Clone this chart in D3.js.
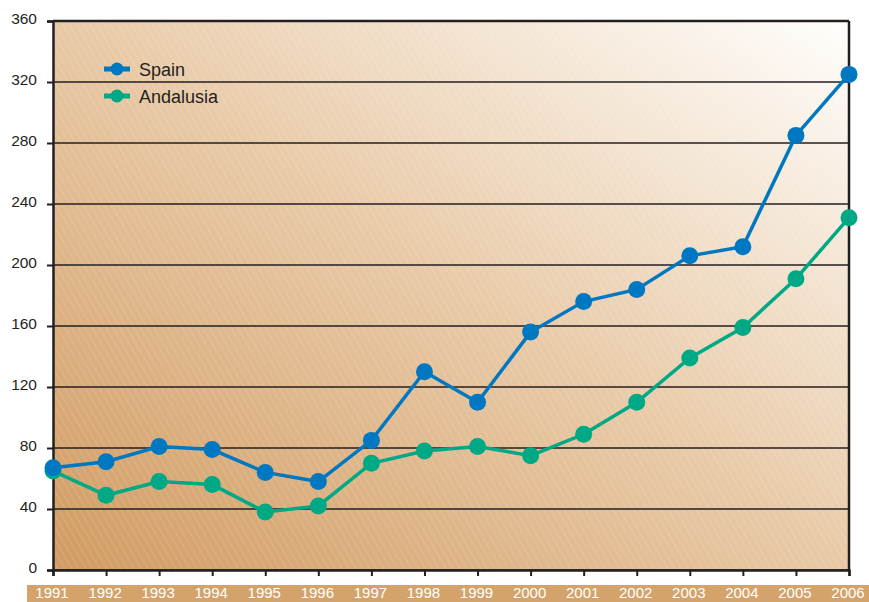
<!DOCTYPE html>
<html>
<head>
<meta charset="utf-8">
<script src="https://cdn.jsdelivr.net/npm/d3@7"></script>
<style>
  body { margin: 0; background: #fff; }
  svg { display: block; font-family: "Liberation Sans", Arial, sans-serif; }
</style>
</head>
<body>
<div id="chart"></div>
<script>
// data
var years = ['1991', '1992', '1993', '1994', '1995', '1996', '1997', '1998', '1999', '2000', '2001', '2002', '2003', '2004', '2005', '2006'];
var spain = [67, 71, 81, 79, 64, 58, 85, 130, 110, 156, 176, 184, 206, 212, 285, 325];
var andalusia = [65, 49, 58, 56, 38, 42, 70, 78, 81, 75, 89, 110, 139, 159, 191, 231];
var yTicks = [0, 40, 80, 120, 160, 200, 240, 280, 320, 360];

var W = 869, H = 602;
var margin = { top: 21, right: 20, bottom: 32, left: 53 },
    width = W - margin.left - margin.right,
    height = H - margin.top - margin.bottom;

var svg = d3.select("#chart").append("svg")
    .attr("width", W)
    .attr("height", H);

var defs = svg.append("defs");

//background gradient, dark tan at bottom left to white at top right
var grad = defs.append("linearGradient")
    .attr("id", "bg")
    .attr("x1", "0%").attr("y1", "100%")
    .attr("x2", "100%").attr("y2", "0%");
grad.append("stop").attr("offset", "0%").attr("stop-color", "#d19b62");
grad.append("stop").attr("offset", "50%").attr("stop-color", "#e8c9a6");
grad.append("stop").attr("offset", "100%").attr("stop-color", "#fffefc");

var hatch = defs.append("pattern")
    .attr("id", "hatch")
    .attr("patternUnits", "userSpaceOnUse")
    .attr("width", 6).attr("height", 6)
    .attr("patternTransform", "rotate(-30)");
hatch.append("line")
    .attr("x1", 0).attr("y1", 0).attr("x2", 0).attr("y2", 6)
    .style("stroke", "#fff")
    .style("stroke-opacity", 0.28)
    .style("stroke-width", 1);

var g = svg.append("g")
    .attr("transform", "translate(" + margin.left + "," + margin.top + ")");

var x = d3.scalePoint().domain(years).range([0, width]);
var y = d3.scaleLinear().domain([0, 360]).range([height, 0]);

g.append("rect")
    .attr("width", width).attr("height", height)
    .attr("fill", "url(#bg)");
g.append("rect")
    .attr("width", width).attr("height", height)
    .attr("fill", "url(#hatch)");

// gridlines
g.selectAll(".grid")
    .data(yTicks)
    .enter().append("line")
    .attr("class", "grid")
    .attr("x1", 0).attr("x2", width)
    .attr("y1", function (d) { return y(d); })
    .attr("y2", function (d) { return y(d); })
    .style("stroke", "#231f20")
    .style("stroke-width", 1.6);

// right and top border
g.append("line")
    .attr("x1", width).attr("x2", width)
    .attr("y1", 0).attr("y2", height)
    .style("stroke", "#231f20").style("stroke-width", 2.5);
g.append("line")
    .attr("x1", 0).attr("x2", width)
    .attr("y1", 0).attr("y2", 0)
    .style("stroke", "#231f20").style("stroke-width", 2.5);

// axes
var yAxis = g.append("g")
    .call(d3.axisLeft(y).tickValues(yTicks).tickSize(6).tickPadding(10));
var xAxis = g.append("g")
    .attr("transform", "translate(0," + height + ")")
    .call(d3.axisBottom(x).tickSize(6).tickFormat(""));

[yAxis, xAxis].forEach(function (a) {
    a.select(".domain").style("stroke", "#231f20").style("stroke-width", 2.5);
    a.selectAll(".tick line").style("stroke", "#231f20").style("stroke-width", 2);
});
yAxis.selectAll(".tick text")
    .attr("dy", "0.15em")
    .style("font-size", "15.5px")
    .style("fill", "#231f20")
    .style("font-family", "Liberation Sans, Arial, sans-serif");

// bottom band with year labels
svg.append("rect")
    .attr("x", 27).attr("y", 585)
    .attr("width", W - 27).attr("height", H - 585)
    .attr("fill", "#d4a36c");

svg.selectAll(".yearLabel")
    .data(years)
    .enter().append("text")
    .attr("class", "yearLabel")
    .attr("x", function (d) { return margin.left + x(d) - 1; })
    .attr("y", 598)
    .attr("text-anchor", "middle")
    .style("font-size", "15px")
    .style("fill", "#fff")
    .text(function (d) { return d; });

var series = [
    { name: "Spain", values: spain, color: "#0078c1" },
    { name: "Andalusia", values: andalusia, color: "#00a985" }
];

var line = d3.line()
    .x(function (d, i) { return x(years[i]); })
    .y(function (d) { return y(d); });

// Andalusia drawn first so Spain sits on top
series.slice().reverse().forEach(function (s) {
    g.append("path")
        .attr("d", line(s.values))
        .attr("fill", "none")
        .style("stroke", s.color)
        .style("stroke-width", 3.5);
    g.selectAll(".pt-" + s.name)
        .data(s.values)
        .enter().append("circle")
        .attr("cx", function (d, i) { return x(years[i]); })
        .attr("cy", function (d) { return y(d); })
        .attr("r", 8.5)
        .attr("fill", s.color);
});

// legend
var legend = svg.append("g").attr("transform", "translate(104,69)");
series.forEach(function (s, i) {
    var row = legend.append("g").attr("transform", "translate(0," + (i * 27) + ")");
    row.append("line")
        .attr("x1", 0).attr("x2", 26)
        .style("stroke", s.color).style("stroke-width", 5);
    row.append("circle").attr("cx", 13).attr("r", 6.5).attr("fill", s.color);
    row.append("text")
        .attr("x", 35).attr("y", 6.5)
        .style("font-size", "18px")
        .style("fill", "#231f20")
        .text(s.name);
});
</script>
</body>
</html>
